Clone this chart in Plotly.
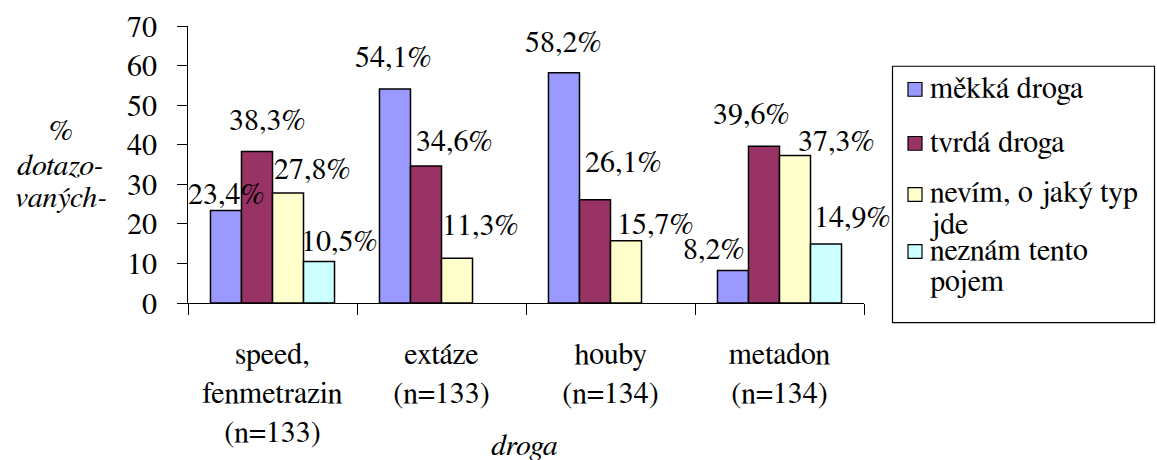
import plotly.graph_objects as go

# Drug categories (axis keys) and their multi-line tick labels
categories = ["speed", "extáze", "houby", "metadon"]
tick_labels = ["speed,<br>fenmetrazin<br>(n=133)", "extáze<br>(n=133)",
               "houby<br>(n=134)", "metadon<br>(n=134)"]

# Share of respondents (%) per answer
series_names = ["měkká droga", "tvrdá droga", "nevím, o jaký typ jde", "neznám tento pojem"]
mekka_droga = [23.4, 54.1, 58.2, 8.2]
tvrda_droga = [38.3, 34.6, 26.1, 39.6]
nevim_typ = [27.8, 11.3, 15.7, 37.3]
neznam_pojem = [10.5, None, None, 14.9]

# Legend text as it wraps inside the legend box
legend_lines = [["měkká droga"], ["tvrdá droga"], ["nevím, o jaký typ", "jde"],
                ["neznám tento", "pojem"]]

colors = ["#9999FF", "#993366", "#FFFFCC", "#CCFFFF"]
series = [mekka_droga, tvrda_droga, nevim_typ, neznam_pojem]

FONT = "FreeSerif, Liberation Serif, Times New Roman, serif"
FS = 30
W, H = 1157, 460
L, R, T, B = 188, 864, 24, 306          # plot area in pixels
PW, PH = R - L, B - T
BARGAP = 0.266
bar_px = PW / len(categories) * (1 - BARGAP) / len(series)

# Per-label nudges (pixels) of the value labels relative to their bar tops
label_dx = [[1, -1, 0, -19], [11, 29, 29, -12], [24, 23, 29, 41], [20, 0, 0, 26]]
label_dy = [[15, 31, 29.5, 21], [30, 24, 37, 31], [23, 32.5, 15.7, 13.5], [19.7, 0, 0, 26]]


def fx(px):
    return (px - L) / PW


def fy(py):
    return (B - py) / PH


def txt_font():
    return dict(family=FONT, size=FS, color="#000000")


fig = go.Figure()
for i, (name, vals, col) in enumerate(zip(series_names, series, colors)):
    fig.add_trace(go.Bar(
        x=categories, y=vals, name=name,
        marker=dict(color=col, line=dict(color="black", width=1.5)),
        showlegend=False, hoverinfo="skip",
    ))

annotations = []
# value labels
for i, vals in enumerate(series):
    for j, v in enumerate(vals):
        if v is None:
            continue
        annotations.append(dict(
            x=categories[j], y=v, xref="x", yref="y",
            text=f"{v:.1f}".replace(".", ",") + "%",
            showarrow=False, xanchor="center", yanchor="middle",
            xshift=(i - 1.5) * bar_px + label_dx[i][j], yshift=label_dy[i][j],
            font=txt_font(),
        ))

# y-axis title, horizontal in three lines
for line, ypx in zip(["%", "dotazo-", "vaných-"], [131, 167, 199]):
    annotations.append(dict(
        x=fx(60), y=fy(ypx), xref="paper", yref="paper", text=f"<i>{line}</i>",
        showarrow=False, xanchor="center", yanchor="middle", font=txt_font(),
    ))

# x-axis title
annotations.append(dict(
    x=fx(524), y=fy(452), xref="paper", yref="paper", text="<i>droga</i>",
    showarrow=False, xanchor="center", yanchor="middle", font=txt_font(),
))

# legend box
shapes = [dict(type="rect", xref="paper", yref="paper",
               x0=fx(892.5), x1=fx(1154.5), y0=fy(326), y1=fy(65),
               line=dict(color="black", width=1.2), fillcolor="white", layer="below")]
item_y = [88.5, 143.5, 195.5, 253.5]
for col, lines, yc in zip(colors, legend_lines, item_y):
    shapes.append(dict(type="rect", xref="paper", yref="paper",
                       x0=fx(908), x1=fx(922), y0=fy(yc + 7), y1=fy(yc - 7),
                       line=dict(color="black", width=1.2), fillcolor=col))
    for n, text in enumerate(lines):
        annotations.append(dict(
            x=fx(928), y=fy(yc + n * 32), xref="paper", yref="paper", text=text,
            showarrow=False, xanchor="left", yanchor="middle", font=txt_font(),
        ))

fig.update_layout(
    width=W, height=H,
    margin=dict(l=L, r=W - R, t=T, b=H - B, pad=0),
    paper_bgcolor="white", plot_bgcolor="white",
    barmode="group", bargap=BARGAP, bargroupgap=0,
    annotations=annotations, shapes=shapes,
    showlegend=False,
)
fig.update_xaxes(
    type="category", categoryorder="array", categoryarray=categories,
    tickvals=categories, ticktext=tick_labels, tickson="boundaries",
    ticks="outside", ticklen=11, tickcolor="black", tickwidth=1,
    showline=True, linecolor="black", linewidth=1, showgrid=False,
    tickfont=txt_font(), ticklabelstandoff=24, range=[-0.5, 3.5],
)
fig.update_yaxes(
    range=[0, 70], dtick=10, ticks="outside", ticklen=10, tickcolor="black",
    tickwidth=1, showline=True, linecolor="black", linewidth=1,
    showgrid=False, zeroline=False, tickfont=txt_font(), ticklabelstandoff=14,
)

fig.write_html("out.html")
